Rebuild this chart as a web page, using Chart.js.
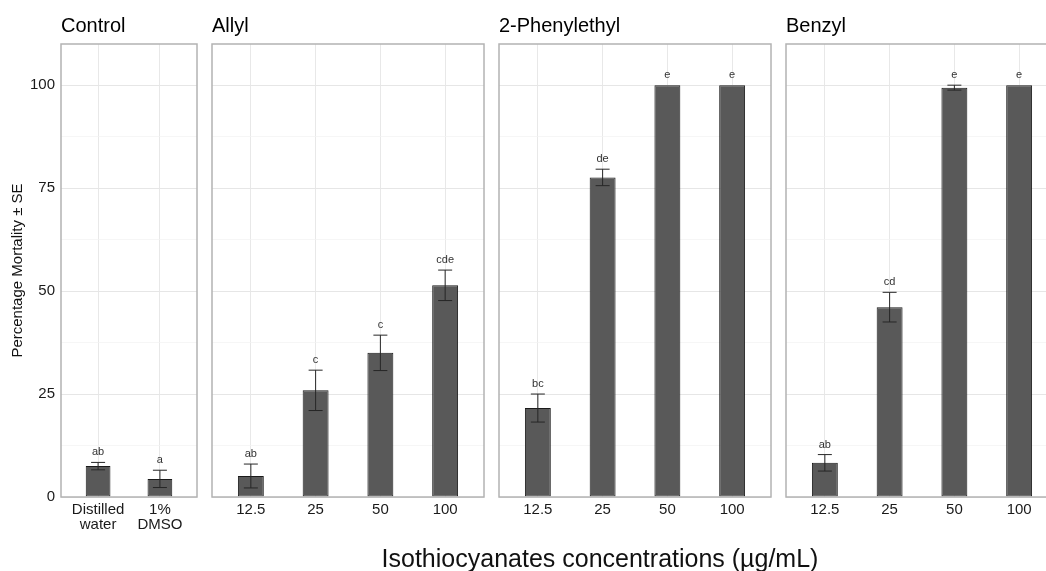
<!DOCTYPE html>
<html lang="en">
<head>
<meta charset="UTF-8">
<title>Isothiocyanates mortality</title>
<script src="https://cdn.jsdelivr.net/npm/chart.js"></script>
<style>
  html, body { margin: 0; padding: 0; background: #fff; overflow: hidden; }
  #wrap { position: relative; width: 1046px; height: 571px; overflow: hidden; }
  #wrap canvas { position: absolute; top: 0; }
  #xtitle { position: absolute; left: 0; width: 1200px; top: 546px; text-align: center;
            font: 25px/25px "Liberation Sans", Arial, sans-serif; color: #111; white-space: nowrap; }
</style>
</head>
<body>
<div id="wrap">
  <canvas id="c0"></canvas>
  <canvas id="c1"></canvas>
  <canvas id="c2"></canvas>
  <canvas id="c3"></canvas>
  <div id="xtitle">Isothiocyanates concentrations (µg/mL)</div>
</div>
<script>
// facets
const facetNames = ['Control', 'Allyl', '2-Phenylethyl', 'Benzyl'];

// x labels
const controlLabels = [['Distilled', 'water'], ['1%', 'DMSO']];
const concLabels = ['12.5', '25', '50', '100'];

// mean mortality (%) and standard errors
const controlMean = [7.5, 4.4];
const controlSE = [0.9, 2.1];
const controlLetters = ['ab', 'a'];

const allylMean = [5.1, 25.9, 35.0, 51.4];
const allylSE = [2.9, 4.9, 4.3, 3.7];
const allylLetters = ['ab', 'c', 'c', 'cde'];

const phenylethylMean = [21.6, 77.6, 100, 100];
const phenylethylSE = [3.4, 2.0, 0, 0];
const phenylethylLetters = ['bc', 'de', 'e', 'e'];

const benzylMean = [8.3, 46.1, 99.4, 100];
const benzylSE = [2.0, 3.6, 0.6, 0];
const benzylLetters = ['ab', 'cd', 'e', 'e'];

const yTickValues = [0, 12.5, 25, 37.5, 50, 62.5, 75, 87.5, 100];

Chart.defaults.font.family = '"Liberation Sans", Arial, sans-serif';

// error bars, letters and panel border
const facetDecor = {
  id: 'facetDecor',
  afterDatasetsDraw(chart, args, opts) {
    const { ctx, chartArea: a } = chart;
    const x = chart.scales.x, y = chart.scales.y;
    const pts = chart.data.datasets[0].data;
    ctx.save();
    ctx.strokeStyle = '#262626';
    ctx.lineWidth = 1;
    pts.forEach((p, i) => {
      const se = opts.se[i];
      const px = x.getPixelForValue(p.x);
      const yt = y.getPixelForValue(p.y + se);
      if (se > 0) {
        const yb = y.getPixelForValue(p.y - se);
        ctx.beginPath();
        ctx.moveTo(px, yt); ctx.lineTo(px, yb);
        ctx.moveTo(px - 7, yt); ctx.lineTo(px + 7, yt);
        ctx.moveTo(px - 7, yb); ctx.lineTo(px + 7, yb);
        ctx.stroke();
      }
      ctx.fillStyle = '#333';
      ctx.font = '11px "Liberation Sans", Arial, sans-serif';
      ctx.textAlign = 'center';
      ctx.textBaseline = 'alphabetic';
      ctx.fillText(opts.letters[i], px, yt - 7);
    });
    ctx.strokeStyle = '#b3b3b3';
    ctx.lineWidth = 1.5;
    ctx.strokeRect(a.left, a.top, a.right - a.left, a.bottom - a.top);
    ctx.restore();
  }
};

const panels = [
  { left: 61, width: 136 },
  { left: 212, width: 272 },
  { left: 499, width: 272 },
  { left: 786, width: 272 }
];

function makeFacet(idx, labels, means, ses, letters) {
  const first = idx === 0;
  const pan = panels[idx];
  const canvas = document.getElementById('c' + idx);
  const canvasLeft = first ? 0 : pan.left - 2;
  canvas.width = first ? pan.left + pan.width + 2 : pan.width + 4;
  canvas.height = 545;
  canvas.style.left = canvasLeft + 'px';

  new Chart(canvas, {
    type: 'bar',
    data: {
      datasets: [{
        data: means.map((v, i) => ({ x: i, y: v })),
        backgroundColor: '#595959',
        borderColor: '#1a1a1a',
        borderWidth: 1,
        borderSkipped: false,
        barPercentage: 0.4,
        categoryPercentage: 1
      }]
    },
    options: {
      responsive: false,
      animation: false,
      layout: { padding: { left: first ? 0 : 2, right: 2, top: 0, bottom: 0 } },
      plugins: {
        legend: { display: false },
        tooltip: { enabled: false },
        title: {
          display: true,
          text: facetNames[idx],
          align: 'start',
          fullSize: false,
          color: '#000',
          font: { size: 20, weight: 'normal', lineHeight: 1.2 },
          padding: { top: 14, bottom: 6 }
        },
        facetDecor: { se: ses, letters: letters }
      },
      scales: {
        x: {
          type: 'linear',
          offset: false,
          min: -0.6,
          max: labels.length - 0.4,
          afterBuildTicks: s => { s.ticks = labels.map((l, i) => ({ value: i })); },
          afterFit: s => { s.height = 48; },
          border: { display: false },
          grid: { offset: false, color: '#e8e8e8', lineWidth: 1, drawTicks: false },
          ticks: {
            padding: 5,
            color: '#1a1a1a',
            font: { size: 15, lineHeight: 1.0 },
            maxRotation: 0,
            autoSkip: false,
            callback: v => labels[v]
          }
        },
        y: {
          min: 0,
          max: 110,
          afterBuildTicks: s => { s.ticks = yTickValues.map(v => ({ value: v })); },
          afterFit: s => { s.width = first ? pan.left : 0; },
          border: { display: false },
          grid: {
            drawTicks: false,
            color: c => (c.tick && c.tick.value % 25 === 0) ? '#e6e6e6' : '#f2f2f2',
            lineWidth: c => (c.tick && c.tick.value % 25 === 0) ? 1 : 0.7
          },
          ticks: {
            display: first,
            padding: 6,
            color: '#1a1a1a',
            font: { size: 15 },
            callback: v => (v % 25 === 0 ? String(v) : '')
          },
          title: {
            display: first,
            text: 'Percentage Mortality ± SE',
            color: '#111',
            font: { size: 15 },
            padding: { top: 9, bottom: 0 }
          }
        }
      }
    },
    plugins: [facetDecor]
  });
}

makeFacet(0, controlLabels, controlMean, controlSE, controlLetters);
makeFacet(1, concLabels, allylMean, allylSE, allylLetters);
makeFacet(2, concLabels, phenylethylMean, phenylethylSE, phenylethylLetters);
makeFacet(3, concLabels, benzylMean, benzylSE, benzylLetters);
</script>
</body>
</html>
